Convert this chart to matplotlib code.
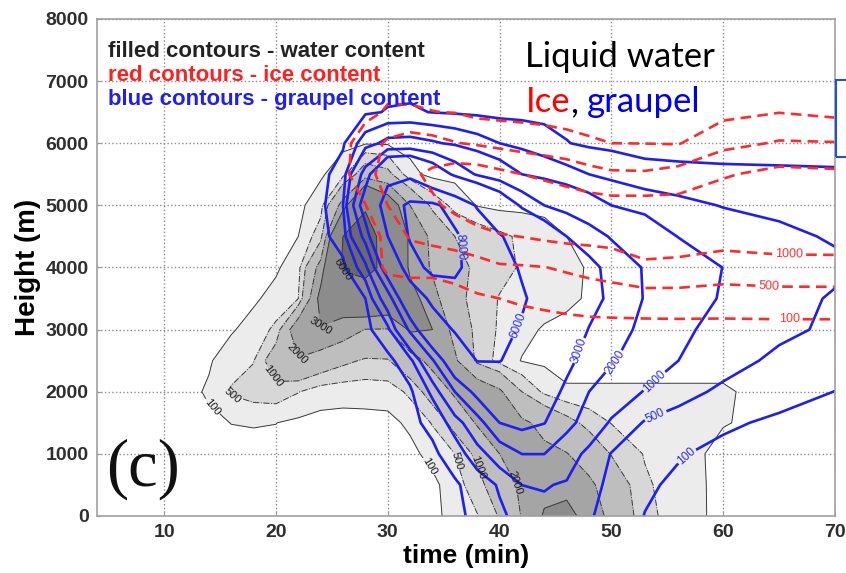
import numpy as np
import matplotlib
matplotlib.use("Agg")
import matplotlib.pyplot as plt
from matplotlib.patches import Rectangle

plt.rcParams['font.family'] = ['Liberation Sans', 'DejaVu Sans']

# model grid: time (min) and height (m)
time_min = [4, 12, 14, 16, 18, 20, 22, 24, 26, 28, 30, 32, 34, 36, 38, 40,
            42, 44, 46, 48, 50, 53, 56, 60, 65, 70]
height_m = [0, 500, 1000, 1500, 2000, 2500, 3000, 3500, 4000, 4500, 5000,
            5500, 6000, 6500, 7000]

# liquid water content, one row per height
water = [
    [0, 0, 0, 0, 0, 0, 0, 0, 0, 0, 0, 0, 0, 233, 476, 1050, 2056, 3113, 3353, 2583, 1727, 650, 271, 0, 0, 0],
    [0, 0, 0, 0, 0, 0, 0, 0, 0, 0, 0, 0, 0, 314, 750, 1500, 2170, 2657, 2663, 2189, 1520, 575, 265, 0, 0, 0],
    [0, 0, 0, 0, 0, 0, 0, 0, 0, 0, 0, 0, 224, 500, 1167, 2000, 2114, 2190, 2036, 1545, 963, 464, 245, 0, 0, 0],
    [0, 0, 30, 105, 120, 105, 20, 0, 0, 0, 0, 170, 531, 1250, 2100, 2500, 2167, 1750, 1250, 800, 482, 373, 264, 118, 0, 0],
    [0, 0, 146, 550, 700, 750, 520, 250, 210, 225, 262, 600, 1348, 2160, 2800, 2160, 1000, 400, 130, 130, 130, 130, 130, 130, 0, 0],
    [0, 0, 60, 300, 480, 1500, 1900, 1500, 1150, 920, 950, 1556, 2311, 2162, 833, 346, 80, 30, 20, 20, 20, 20, 20, 20, 0, 0],
    [0, 0, 0, 60, 250, 600, 2850, 2950, 2500, 1970, 1950, 3133, 3000, 1667, 800, 443, 214, 60, 0, 0, 0, 0, 0, 0, 0, 0],
    [0, 0, 0, 0, 40, 233, 500, 3400, 3800, 4500, 4200, 3500, 2333, 1250, 750, 475, 375, 275, 175, 60, 0, 0, 0, 0, 0, 0],
    [0, 0, 0, 0, 0, 40, 346, 2400, 6300, 6800, 5250, 2762, 1875, 1250, 867, 633, 455, 326, 197, 70, 0, 0, 0, 0, 0, 0],
    [0, 0, 0, 0, 0, 0, 100, 750, 6000, 6750, 5250, 2750, 1800, 1000, 800, 600, 420, 260, 100, 0, 0, 0, 0, 0, 0, 0],
    [0, 0, 0, 0, 0, 0, 0, 332, 2400, 5800, 3933, 2000, 833, 352, 80, 0, 0, 0, 0, 0, 0, 0, 0, 0, 0, 0],
    [0, 0, 0, 0, 0, 0, 0, 40, 357, 1500, 1200, 200, 0, 0, 0, 0, 0, 0, 0, 0, 0, 0, 0, 0, 0, 0],
    [0, 0, 0, 0, 0, 0, 0, 0, 0, 60, 50, 0, 0, 0, 0, 0, 0, 0, 0, 0, 0, 0, 0, 0, 0, 0],
    [0] * 26,
    [0] * 26,
]

# ice content
ice = [
    [0] * 26,
    [0] * 26,
    [0] * 26,
    [0] * 26,
    [0] * 26,
    [0] * 26,
    [0] * 26,
    [0, 0, 0, 0, 0, 0, 0, 0, 0, 0, 0, 0, 0, 20, 60, 100, 130, 160, 200, 240, 260, 280, 290, 280, 300, 300],
    [0, 0, 0, 0, 0, 0, 0, 0, 0, 0, 130, 150, 150, 190, 300, 440, 460, 490, 560, 640, 720, 930, 900, 760, 820, 830],
    [0, 0, 0, 0, 0, 0, 0, 0, 0, 0, 150, 550, 650, 750, 870, 960, 1010, 1080, 1130, 1150, 1170, 1200, 1200, 1200, 1250, 1250],
    [0, 0, 0, 0, 0, 0, 0, 0, 0, 90, 500, 720, 930, 1100, 1250, 1400, 1450, 1400, 1300, 1250, 1200, 1200, 1200, 1300, 1400, 1350],
    [0, 0, 0, 0, 0, 0, 0, 0, 0, 357, 674, 907, 1100, 1270, 1250, 1120, 1000, 900, 800, 650, 560, 550, 650, 950, 1150, 1100],
    [0, 0, 0, 0, 0, 0, 0, 0, 0, 278, 567, 700, 633, 520, 450, 370, 300, 240, 180, 130, 100, 95, 80, 367, 540, 520],
    [0, 0, 0, 0, 0, 0, 0, 0, 0, 10, 135, 134, 105, 91, 12, 0, 0, 0, 0, 0, 0, 0, 0, 0, 91, 10],
    [0] * 26,
]

# graupel content
graupel = [
    [0, 0, 0, 0, 0, 0, 0, 0, 0, 0, 0, 0, 0, 30, 175, 425, 644, 850, 746, 541, 351, 90, 0, 0, 0, 0],
    [0, 0, 0, 0, 0, 0, 0, 0, 0, 0, 0, 0, 0, 50, 260, 548, 1002, 1040, 939, 636, 408, 158, 30, 0, 0, 0],
    [0, 0, 0, 0, 0, 0, 0, 0, 0, 0, 0, 0, 30, 278, 750, 1357, 2008, 2008, 1357, 815, 482, 306, 130, 0, 0, 0],
    [0, 0, 0, 0, 0, 0, 0, 0, 0, 0, 0, 20, 189, 688, 1556, 3000, 3300, 3027, 2308, 1556, 900, 458, 332, 163, 30, 0],
    [0, 0, 0, 0, 0, 0, 0, 0, 0, 0, 0, 40, 591, 2000, 3375, 4125, 4167, 3500, 2800, 2000, 1556, 950, 650, 417, 250, 95],
    [0, 0, 0, 0, 0, 0, 0, 0, 0, 0, 0, 340, 1875, 4200, 6067, 6067, 5250, 4250, 3250, 2605, 2079, 1526, 1000, 667, 406, 250],
    [0, 0, 0, 0, 0, 0, 0, 0, 0, 0, 367, 2167, 4667, 6194, 6679, 6425, 5852, 4869, 3885, 2950, 2450, 1745, 1106, 833, 595, 420],
    [0, 0, 0, 0, 0, 0, 0, 0, 0, 100, 1429, 4500, 6500, 7500, 7059, 6618, 6176, 5419, 4452, 3484, 2730, 1948, 1431, 925, 675, 450],
    [0, 0, 0, 0, 0, 0, 0, 0, 20, 786, 3857, 7176, 8520, 8253, 7440, 6640, 5833, 5000, 4167, 3333, 2667, 1918, 1507, 988, 794, 600],
    [0, 0, 0, 0, 0, 0, 0, 0, 260, 2333, 6000, 8200, 9000, 8231, 7243, 6162, 5105, 4053, 3000, 2429, 1917, 1417, 979, 813, 604, 450],
    [0, 0, 0, 0, 0, 0, 0, 0, 500, 3800, 7125, 8339, 8327, 7385, 5838, 4216, 2800, 2000, 1667, 1333, 1000, 824, 647, 475, 390, 300],
    [0, 0, 0, 0, 0, 0, 0, 0, 260, 2400, 5318, 5625, 4125, 2750, 1889, 1444, 1000, 833, 667, 500, 380, 200, 170, 150, 140, 130],
    [0, 0, 0, 0, 0, 0, 0, 0, 55, 750, 1180, 1225, 1075, 900, 700, 500, 384, 255, 113, 40, 10, 0, 0, 0, 0, 0],
    [0, 0, 0, 0, 0, 0, 0, 0, 0, 50, 120, 140, 90, 60, 30, 0, 0, 0, 0, 0, 0, 0, 0, 0, 0, 0],
    [0] * 26,
]

water_levels = [100, 500, 1000, 2000, 3000, 6000]
ice_levels = [100, 500, 1000]
graupel_levels = [100, 500, 1000, 2000, 3000, 6000, 8000]
water_shades = ['#ececec', '#d7d7d7', '#bebebe', '#a5a5a5', '#8c8c8c', '#6a6a6a']

# where the contour labels sit (time, height)
water_label_at = [(14.3, 1760), (16.2, 1960), (19.6, 2250), (21.8, 2600),
                  (23.4, 3050), (25.8, 3950), (33.6, 790), (36.4, 900),
                  (38.3, 790), (41.3, 530)]
ice_label_at = [(65.9, 4150), (64.1, 3770), (65.9, 3190)]
graupel_label_at = [(56.1, 1060), (54.0, 1600), (54.2, 2110), (50.3, 2480),
                    (47.0, 2670), (42.0, 3040), (36.3, 4330)]

t, z = np.meshgrid(time_min, height_m)
W = np.array(water, dtype=float)
I = np.array(ice, dtype=float)
G = np.array(graupel, dtype=float)

fig = plt.figure(figsize=(8.46, 5.73), dpi=100)
ax = fig.add_axes([0.1147, 0.0995, 0.8723, 0.8674])
ax.set_axisbelow(True)
ax.grid(True, linestyle=':', color='#8c8c8c', linewidth=1.0)

ax.contourf(t, z, W, levels=water_levels + [20000], colors=water_shades)
wl = ax.contour(t, z, W, levels=water_levels, colors='#3a3a3a',
                linewidths=0.7,
                linestyles=['-', '-.', '-.', '-.', '-', '-'])
ax.clabel(wl, fontsize=8, colors='#1a1a1a', fmt='%d', inline=True,
          inline_spacing=2, manual=water_label_at)

gl = ax.contour(t, z, G, levels=graupel_levels, colors='#1f1fee',
                linewidths=1.9)
ax.clabel(gl, fontsize=8.5, colors='#2a2aee', fmt='%d', inline=True,
          inline_spacing=2, manual=graupel_label_at)

il = ax.contour(t, z, I, levels=ice_levels, colors='#ff2b2b',
                linewidths=1.9, linestyles=[(0, (4, 2.4))])
ax.clabel(il, fontsize=9, colors='#ff3030', fmt='%d', inline=True,
          inline_spacing=3, manual=ice_label_at)

ax.set_xlim(4, 70)
ax.set_ylim(0, 8000)
ax.set_xticks([10, 20, 30, 40, 50, 60, 70])
ax.set_yticks(np.arange(0, 8001, 1000))
ax.tick_params(direction='in', length=3, color='#999999', pad=6,
               labelsize=14, labelcolor='#2e2e2e')
for lab in ax.get_xticklabels() + ax.get_yticklabels():
    lab.set_fontweight('bold')
for s in ax.spines.values():
    s.set_color('#a0a0a0')
    s.set_linewidth(1.2)

ax.set_xlabel('time (min)', fontsize=19, fontweight='bold', labelpad=2)
ax.set_ylabel('Height (m)', fontsize=20, fontweight='bold', labelpad=3)

ax.text(0.015, 0.934, 'filled contours - water content', transform=ax.transAxes,
        fontsize=16, fontweight='bold', color='#222222', va='center')
ax.text(0.015, 0.887, 'red contours - ice content', transform=ax.transAxes,
        fontsize=16, fontweight='bold', color='#ff2020', va='center')
ax.text(0.015, 0.837, 'blue contours - graupel content', transform=ax.transAxes,
        fontsize=16, fontweight='bold', color='#2020ee', va='center')

ax.text(0.012, 0.095, '(c)', transform=ax.transAxes, fontsize=48,
        family='Liberation Serif', color='#111111', va='center')

fig.text(0.6206, 0.8831, 'Liquid water', fontsize=25, family='Lato',
         color='black', va='baseline')
fig.text(0.6217, 0.8045, 'Ice', fontsize=25, family='Lato',
         color='#ff0000', va='baseline')
fig.text(0.6735, 0.8045, ',', fontsize=25, family='Lato',
         color='black', va='baseline')
fig.text(0.6940, 0.8045, 'graupel', fontsize=25, family='Lato',
         color='#0000ee', va='baseline')

fig.patches.append(Rectangle((0.9882, 0.726), 0.05, 0.134,
                             transform=fig.transFigure, fill=False,
                             edgecolor='#2050e0', linewidth=1.5))

fig.savefig('out.png', dpi=100)
